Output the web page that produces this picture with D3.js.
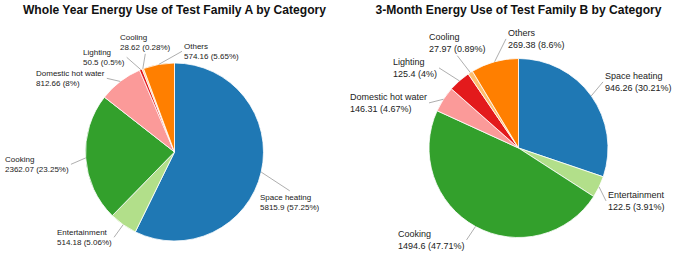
<!DOCTYPE html>
<html>
<head>
<meta charset="utf-8">
<script src="https://cdn.jsdelivr.net/npm/d3@7"></script>
<style>
  body { margin: 0; background: #fff; }
  text { font-family: "Liberation Sans", Arial, sans-serif; }
</style>
</head>
<body>
<svg id="chart" width="675" height="253"></svg>
<script>
// categories in drawing order (clockwise from 12 o'clock)
const categories = ["Space heating", "Entertainment", "Cooking", "Domestic hot water", "Lighting", "Cooling", "Others"];
const valuesA = [5815.9, 514.18, 2362.07, 812.66, 50.5, 28.62, 574.16];
const valuesB = [946.26, 122.5, 1494.6, 146.31, 125.4, 27.97, 269.38];
const titleA = "Whole Year Energy Use of Test Family A by Category";
const titleB = "3-Month Energy Use of Test Family B by Category";
const colors = ["#1f78b4", "#b2df8a", "#33a02c", "#fb9a99", "#e31a1c", "#fdbf6f", "#ff7f00"];

// label layout: offset of text start / first line centre from pie centre, and side the leader attaches to
const labelPosA = [[85.5, 45, "t"], [-117.5, 80, "r"], [-169.5, 7, "r"], [-138.5, -79, "r"], [-91.5, -100, "r"], [-54.5, -115, "b"], [9.5, -106, "l"]];
const labelPosB = [[86.5, -72, "l"], [89.5, 47, "l"], [-120.5, 86, "r"], [-168.5, -51, "r"], [-125.5, -86, "r"], [-89.5, -111, "b"], [-10.5, -115, "l"]];

const charts = [
    {title: titleA, values: valuesA, labels: labelPosA, cx: 174.5, cy: 152, r: 89, font: 8, lh: 10},
    {title: titleB, values: valuesB, labels: labelPosB, cx: 518.5, cy: 148, r: 89.5, font: 9, lh: 11.5}
];

const svg = d3.select("#chart");

charts.forEach(ch => {
    const data = categories.map((c, i) => ({name: c, value: ch.values[i], color: colors[i], pos: ch.labels[i]}));
    const total = d3.sum(data, d => d.value);
    const pct = v => +(v / total * 100).toFixed(2) + "%";

    svg.append("text")
        .attr("x", ch.cx)
        .attr("y", 13.5)
        .attr("text-anchor", "middle")
        .attr("font-size", 12.1)
        .attr("font-weight", "bold")
        .attr("fill", "#111")
        .text(ch.title);

    const g = svg.append("g").attr("transform", `translate(${ch.cx},${ch.cy})`);
    const arcs = d3.pie().sort(null).value(d => d.value)(data);
    const arc = d3.arc().innerRadius(0).outerRadius(ch.r);
    const edge = d3.arc().innerRadius(ch.r).outerRadius(ch.r);

    g.selectAll("path.slice")
        .data(arcs)
        .join("path")
        .attr("class", "slice")
        .attr("d", arc)
        .attr("fill", d => d.data.color)
        .attr("stroke", "#fff")
        .attr("stroke-width", 0.8);

    arcs.forEach(d => {
        const [dx, dy, side] = d.data.pos;
        const t = g.append("text")
            .attr("font-size", ch.font)
            .attr("fill", "#222");
        t.append("tspan").attr("x", dx).attr("y", dy + ch.font * 0.35).text(d.data.name);
        t.append("tspan").attr("x", dx).attr("y", dy + ch.font * 0.35 + ch.lh)
            .text(`${d.data.value} (${pct(d.data.value)})`);

        const b = t.node().getBBox();
        const pad = 2;
        let end;
        if (side === "t") end = [b.x + b.width / 2, b.y - pad];
        else if (side === "b") end = [b.x + b.width / 2, b.y + b.height + pad];
        else if (side === "l") end = [b.x - pad, b.y + b.height / 2];
        else end = [b.x + b.width + pad, b.y + b.height / 2];

        g.insert("line", "text")
            .attr("x1", edge.centroid(d)[0])
            .attr("y1", edge.centroid(d)[1])
            .attr("x2", end[0])
            .attr("y2", end[1])
            .attr("stroke", "#999")
            .attr("stroke-width", 0.8);
    });
});
</script>
</body>
</html>
